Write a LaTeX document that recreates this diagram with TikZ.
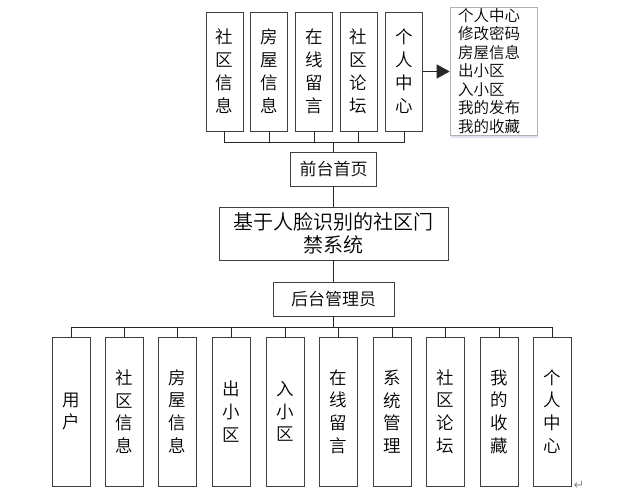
\documentclass[tikz,border=0pt]{standalone}
\usepackage{fontspec}
\setmainfont{Noto Sans CJK SC}[UprightFont=* DemiLight]
\newfontfamily\symfont{DejaVu Sans}
\usetikzlibrary{arrows.meta,shadows}
\begin{document}
\begin{tikzpicture}[x=1pt,y=-1pt,
  box/.style={draw=black!75, line width=0.9pt, inner sep=0pt, align=center, fill=white},
  vbox/.style={box, minimum width=37pt, minimum height=119pt, font=\fontsize{17.5}{23}\selectfont},
  bbox/.style={box, minimum width=38pt, minimum height=149pt, font=\fontsize{17.5}{22.7}\selectfont},
  hbox/.style={box, minimum height=34pt, font=\fontsize{17}{20}\selectfont},
  conn/.style={draw=black!85, line width=0.8pt}]
\useasboundingbox (0,0) rectangle (617,494);

% top row
\node[vbox] (t1) at (224.5,71.5) {社\\区\\信\\息};
\node[vbox] (t2) at (269,71.5) {房\\屋\\信\\息};
\node[vbox] (t3) at (314,71.5) {在\\线\\留\\言};
\node[vbox] (t4) at (358.5,71.5) {社\\区\\论\\坛};
\node[vbox] (t5) at (404,71.5) {个\\人\\中\\心};

\node[box, draw=black!30, line width=0.6pt,
  drop shadow={shadow xshift=0.5pt, shadow yshift=-3.5pt, fill=blue!30!gray!45, opacity=0.4},
  minimum width=87pt, minimum height=128pt, text width=71pt, align=left,
  inner xsep=8pt, inner ysep=0pt, font=\fontsize{15.5}{18.5}\selectfont]
  (lst) at (493.5,71) {个人中心\\修改密码\\房屋信息\\出小区\\入小区\\我的发布\\我的收藏};

\node[hbox, minimum width=86pt] (fp) at (333.5,169) {前台首页};
\node[box, minimum width=229pt, minimum height=53pt, font=\fontsize{20}{23}\selectfont]
  (main) at (333.5,233.5) {基于人脸识别的社区门\\禁系统};
\node[hbox, minimum width=121pt] (adm) at (333.5,299) {后台管理员};

% bottom row
\node[bbox] (b1) at (71,411.5) {用\\户};
\node[bbox] (b2) at (124,411.5) {社\\区\\信\\息};
\node[bbox] (b3) at (177.5,411.5) {房\\屋\\信\\息};
\node[bbox] (b4) at (231.5,411.5) {出\\小\\区};
\node[bbox] (b5) at (285,411.5) {入\\小\\区};
\node[bbox] (b6) at (338,411.5) {在\\线\\留\\言};
\node[bbox] (b7) at (392,411.5) {系\\统\\管\\理};
\node[bbox] (b8) at (445,411.5) {社\\区\\论\\坛};
\node[bbox] (b9) at (499,411.5) {我\\的\\收\\藏};
\node[bbox] (b10) at (552.5,411.5) {个\\人\\中\\心};

\node[text=black!45, font=\symfont\fontsize{13}{13}\selectfont, inner sep=0pt] (pm) at (579,485) {↵};

% connectors top
\coordinate (tb) at (0,142);
\foreach \n in {t1,t2,t3,t4,t5}
  \draw[conn] (\n.south) -- (\n.south |- tb) -| (fp.north);
\draw[conn, -{Triangle[length=13pt,width=14pt]}] (t5.east) -- (t5.east -| lst.west);

\draw[conn] (fp.south) -- (main.north);
\draw[conn] (main.south) -- (adm.north);

% connectors bottom
\coordinate (bb) at (0,327);
\foreach \n in {b1,b2,b3,b4,b5,b6,b7,b8,b9,b10}
  \draw[conn] (adm.south) -- (adm.south |- bb) -| (\n.north);
\end{tikzpicture}
\end{document}
